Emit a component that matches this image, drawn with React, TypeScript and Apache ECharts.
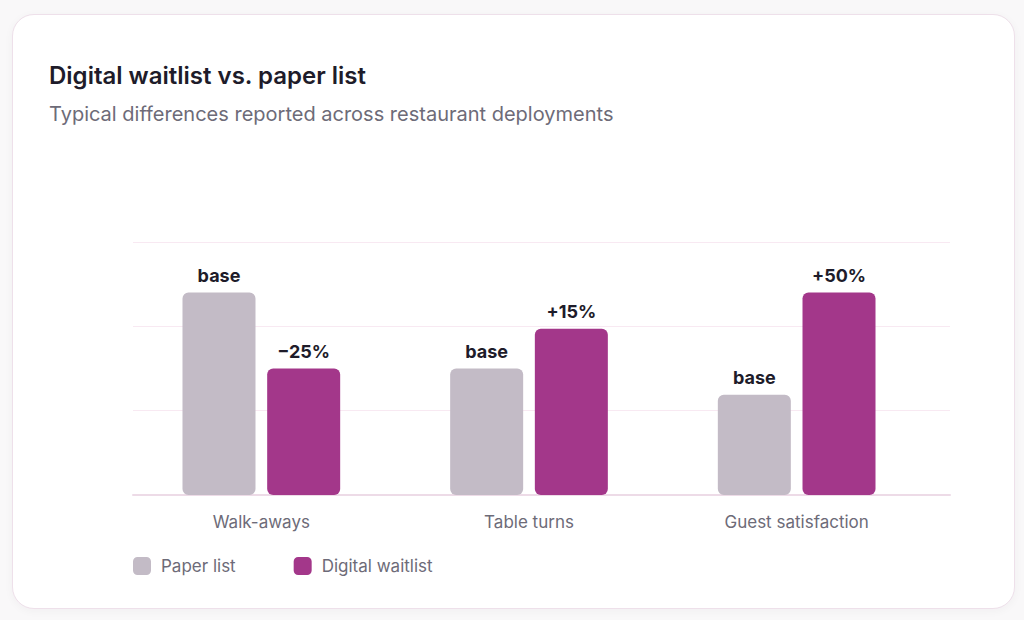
import React, { useEffect, useRef } from "react";
import * as echarts from "echarts";

const categories = ["Walk-aways", "Table turns", "Guest satisfaction"];
const paperValues = [2.4, 1.5, 1.19];
const digitalValues = [1.5, 1.97, 2.4];
const paperLabels = ["base", "base", "base"];
const digitalLabels = ["\u221225%", "+15%", "+50%"];
const yTicks = [0, 1, 2, 3];

const FONT = "Inter, 'Noto Sans', sans-serif";
const PAPER = "#c3bbc6";
const DIGITAL = "#a3378a";

export default function App() {
  const ref = useRef<HTMLDivElement>(null);
  useEffect(() => {
    if (!ref.current) return;
    const chart = echarts.init(ref.current, undefined, { renderer: "svg" });
    const yMin = yTicks[0];
    const yMax = yTicks[yTicks.length - 1];
    const yInt = yTicks[1] - yTicks[0];
    chart.setOption({
      animation: false,
      backgroundColor: "transparent",
      textStyle: { fontFamily: FONT },
      title: [
        {
          text: "Digital waitlist vs. paper list",
          left: 44,
          top: 55,
          textStyle: { fontFamily: FONT, fontSize: 24, fontWeight: 600, color: "#1e1c2a", lineHeight: 30 },
        },
        {
          text: "Typical differences reported across restaurant deployments",
          left: 44,
          top: 96,
          textStyle: { fontFamily: FONT, fontSize: 20, fontWeight: 400, color: "#6d6b78", lineHeight: 26 },
        },
      ],
      legend: {
        left: 128,
        top: 552,
        itemWidth: 18,
        itemHeight: 18,
        itemGap: 58,
        icon: "roundRect",
        data: ["Paper list", "Digital waitlist"],
        textStyle: { fontFamily: FONT, fontSize: 17, color: "#6d6b78", padding: [0, 0, 0, 5] },
      },
      grid: [
        { left: 127.5, width: 803, top: 242, height: 253 },
        { left: 133, width: 817, top: 242, height: 253 },
      ],
      xAxis: [
        {
          type: "category",
          gridIndex: 0,
          data: categories,
          axisLine: { show: false },
          axisTick: { show: false },
          axisLabel: { fontFamily: FONT, fontSize: 17, color: "#6d6b78", margin: 18 },
        },
        {
          type: "category",
          gridIndex: 1,
          data: categories,
          axisLine: { show: true, lineStyle: { color: "#eddbe7", width: 2 } },
          axisTick: { show: false },
          axisLabel: { show: false },
        },
      ],
      yAxis: [
        {
          type: "value",
          gridIndex: 0,
          min: yMin,
          max: yMax,
          interval: yInt,
          axisLabel: { show: false },
          axisLine: { show: false },
          axisTick: { show: false },
          splitLine: { show: false },
        },
        {
          type: "value",
          gridIndex: 1,
          min: yMin,
          max: yMax,
          interval: yInt,
          axisLabel: { show: false },
          axisLine: { show: false },
          axisTick: { show: false },
          splitLine: { show: true, lineStyle: { color: "#f8e9f2", width: 1 } },
        },
      ],
      series: [
        {
          name: "Paper list",
          type: "bar",
          xAxisIndex: 0,
          yAxisIndex: 0,
          data: paperValues,
          barWidth: 73,
          barGap: "16%",
          itemStyle: { color: PAPER, borderRadius: 6 },
          label: {
            show: true,
            position: "top",
            distance: 8,
            fontFamily: FONT,
            fontSize: 18,
            fontWeight: 700,
            color: "#1e1c2a",
            formatter: (p: any) => paperLabels[p.dataIndex],
          },
        },
        {
          name: "Digital waitlist",
          type: "bar",
          xAxisIndex: 0,
          yAxisIndex: 0,
          data: digitalValues,
          barWidth: 73,
          barGap: "16%",
          itemStyle: { color: DIGITAL, borderRadius: 6 },
          label: {
            show: true,
            position: "top",
            distance: 8,
            fontFamily: FONT,
            fontSize: 18,
            fontWeight: 700,
            color: "#1e1c2a",
            formatter: (p: any) => digitalLabels[p.dataIndex],
          },
        },
      ],
    });
    return () => chart.dispose();
  }, []);

  return (
    <div style={{ position: "fixed", left: 0, top: 0, width: 1024, height: 620, background: "#f9f8f9", overflow: "hidden" }}>
      <div
        style={{
          position: "absolute",
          left: 12,
          top: 14,
          width: 1001,
          height: 593,
          border: "1px solid #eee0ea",
          borderRadius: 22,
          background: "#ffffff",
          boxShadow: "0 2px 10px rgba(60,20,50,0.04)",
        }}
      />
      <div ref={ref} style={{ position: "absolute", left: 0, top: 0, width: 1024, height: 620 }} />
    </div>
  );
}
